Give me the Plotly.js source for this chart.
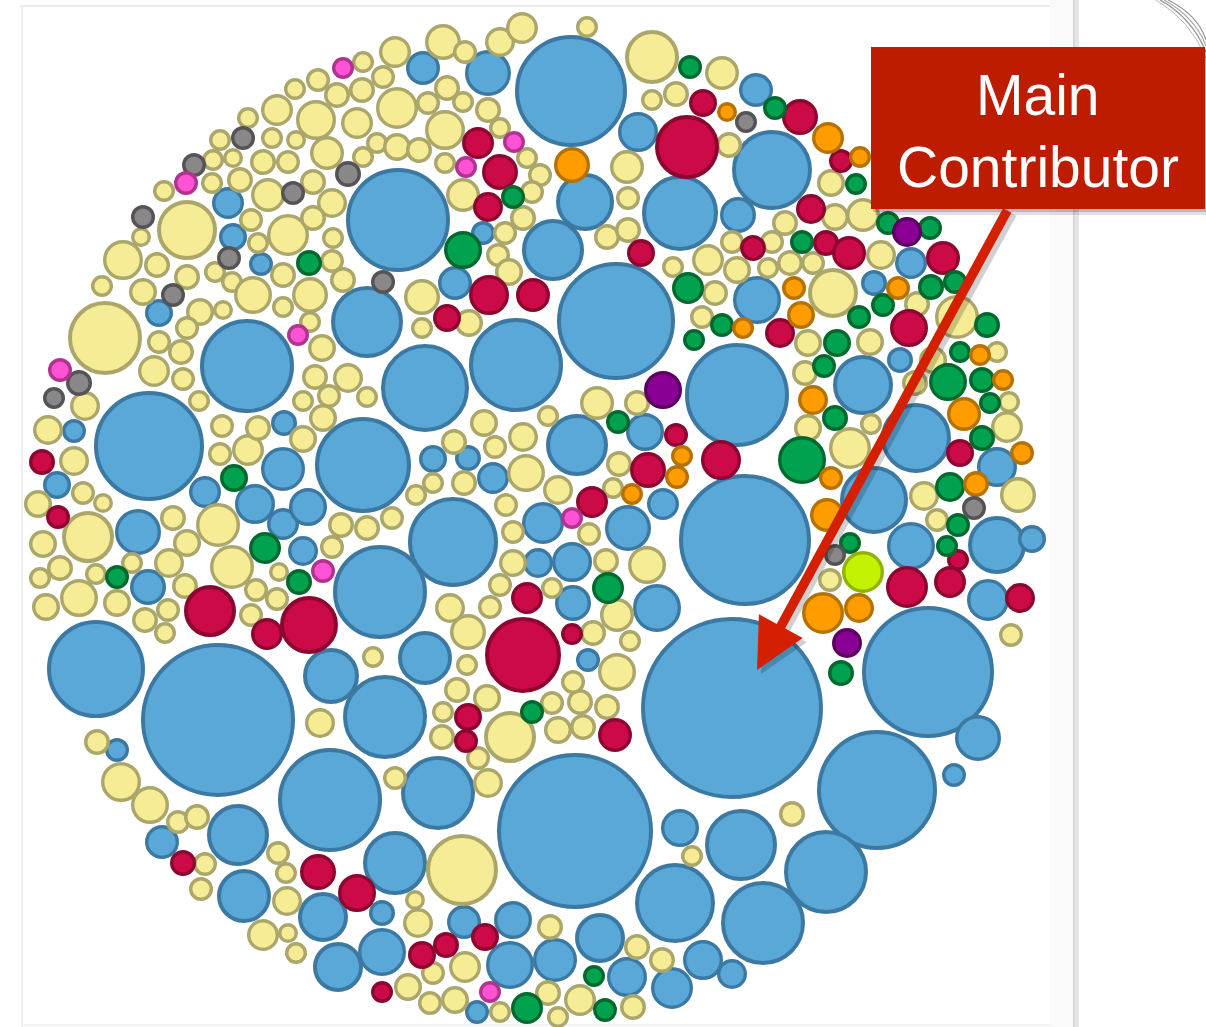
<!DOCTYPE html>
<html>
<head>
<meta charset="utf-8">
<script src="https://cdn.plot.ly/plotly-3.0.1.min.js"></script>
<style>
  html, body { margin: 0; padding: 0; background: #ffffff; }
  #chart { width: 1206px; height: 1027px; }
</style>
</head>
<body>
<div id="chart"></div>
<script>
// Each bubble: [x, y, radius] in chart units (the packed layout)
const blueBubbles = [[571,91,56],[616,321,59],[732,708,91],[575,831,78],[218,720,77],[928,672,66],[745,540,66],[149,446,55],[398,220,52],[363,465,48],[516,365,47],[737,395,52],[380,592,47],[453,542,45],[247,366,47],[96,669,49],[330,800,52],[877,790,60],[425,388,44],[680,213,38],[772,170,40],[367,322,36],[553,250,31],[585,202,29],[577,445,31],[438,793,37],[385,717,42],[238,835,31],[675,903,40],[741,845,36],[826,872,42],[763,923,42],[874,500,34],[916,438,35],[863,385,30],[997,545,29],[1032,539,14],[911,546,24],[988,600,21],[900,360,13],[997,467,20],[978,738,23],[954,775,12],[732,974,15],[680,828,19],[703,960,20],[672,988,21],[627,977,20],[600,938,25],[555,960,22],[510,965,24],[513,920,19],[464,922,17],[382,913,13],[382,952,24],[477,1012,12],[395,863,32],[331,676,28],[117,750,12],[162,842,17],[244,896,27],[323,917,25],[338,967,25],[74,431,12],[57,485,14],[138,532,23],[148,587,18],[303,551,15],[283,524,16],[308,507,19],[255,504,20],[283,469,22],[205,492,16],[284,423,13],[425,658,27],[493,478,16],[468,458,13],[433,459,14],[543,523,21],[538,563,15],[572,562,20],[573,603,18],[657,608,24],[588,660,12],[645,432,19],[663,504,16],[628,528,23],[423,68,17],[488,73,23],[638,132,20],[483,233,12],[455,283,17],[228,203,16],[233,237,14],[261,264,12],[159,313,14],[756,90,17],[738,215,18],[911,263,16],[757,300,24],[874,283,13]];

const yellowBubbles = [[462,870,36],[395,778,12],[442,737,13],[443,712,11],[510,737,26],[552,703,12],[580,702,13],[607,707,13],[558,730,14],[583,727,13],[478,758,12],[488,783,15],[457,690,13],[487,698,14],[573,682,12],[617,672,19],[692,856,11],[550,927,13],[637,947,13],[662,960,13],[633,1007,13],[580,1000,16],[548,993,13],[558,1017,11],[500,1012,11],[465,967,16],[433,973,12],[408,987,14],[430,1003,12],[455,1000,14],[415,900,10],[418,923,15],[792,814,13],[97,742,13],[121,782,20],[150,805,19],[178,822,12],[197,817,13],[320,723,15],[205,864,12],[201,889,12],[278,853,12],[286,873,11],[287,901,15],[263,935,16],[288,933,10],[296,953,11],[105,338,37],[85,406,15],[48,430,15],[74,461,15],[38,504,14],[83,493,12],[103,503,10],[88,537,26],[43,544,14],[60,568,13],[40,578,11],[46,607,14],[79,598,19],[96,574,11],[132,563,11],[117,603,14],[145,620,13],[165,633,11],[168,610,12],[173,518,13],[187,543,14],[218,525,22],[169,563,15],[185,586,13],[232,567,22],[251,615,12],[256,590,12],[277,599,12],[279,572,10],[220,454,12],[222,426,12],[248,450,16],[258,428,13],[303,439,14],[199,401,11],[154,371,16],[183,379,12],[181,352,13],[159,342,12],[315,377,13],[348,378,15],[367,397,11],[329,396,12],[303,401,11],[323,418,14],[322,348,14],[341,525,13],[367,528,13],[332,547,12],[373,657,11],[597,403,17],[637,403,13],[619,464,13],[613,488,11],[589,534,12],[558,490,15],[548,416,11],[526,473,19],[523,437,15],[495,447,12],[484,423,14],[454,442,13],[433,483,11],[416,495,11],[464,483,13],[506,505,12],[513,532,12],[392,518,12],[606,561,13],[647,565,19],[552,588,11],[513,563,14],[500,585,12],[490,607,12],[617,615,17],[593,633,13],[630,641,11],[450,608,15],[468,632,18],[467,665,11],[808,343,14],[870,342,14],[805,373,13],[933,360,14],[915,383,13],[997,352,11],[808,428,14],[871,424,11],[850,448,21],[1009,402,11],[1007,427,16],[924,496,15],[1018,495,18],[937,520,12],[830,580,12],[1011,635,12],[722,73,17],[729,145,13],[831,183,14],[835,217,14],[863,215,17],[785,223,13],[732,242,12],[772,242,12],[881,255,15],[737,270,14],[768,268,11],[790,263,13],[813,263,12],[833,293,25],[917,304,13],[957,317,22],[395,52,16],[443,42,18],[465,52,12],[500,42,15],[522,28,16],[587,27,11],[652,57,27],[383,77,12],[397,108,21],[428,103,12],[447,88,13],[463,102,11],[488,110,13],[652,100,11],[676,94,13],[377,143,11],[397,147,14],[419,150,13],[445,130,20],[500,128,11],[445,163,11],[527,158,11],[540,175,12],[627,167,17],[463,195,17],[532,192,12],[523,218,13],[628,198,12],[505,233,12],[498,255,12],[509,272,14],[607,237,13],[628,230,13],[673,267,11],[708,260,16],[715,293,13],[702,317,12],[422,297,18],[469,323,14],[422,328,11],[363,62,11],[318,80,12],[295,89,11],[337,95,13],[362,90,13],[248,118,11],[277,110,16],[316,120,20],[357,123,16],[220,140,11],[272,138,11],[296,140,10],[327,153,17],[363,157,11],[213,160,11],[233,158,10],[263,162,13],[288,162,12],[212,183,11],[240,180,13],[313,182,13],[164,191,11],[268,195,17],[332,203,15],[187,230,30],[251,220,12],[288,235,21],[313,218,13],[333,238,11],[258,243,11],[141,237,10],[123,260,20],[157,265,13],[332,261,12],[343,280,13],[283,275,13],[310,295,18],[102,286,11],[143,292,14],[187,277,13],[215,272,11],[232,282,11],[253,295,19],[283,307,11],[200,312,14],[223,310,10],[187,328,12],[310,322,11]];

const redBubbles = [[478,143,16],[500,172,18],[488,207,15],[687,147,32],[703,103,14],[489,295,20],[533,295,17],[447,318,14],[641,253,14],[800,117,18],[841,161,12],[811,209,15],[943,258,17],[753,248,13],[826,243,13],[849,253,17],[909,328,19],[780,333,15],[721,460,20],[648,470,18],[676,435,12],[592,502,16],[527,598,16],[572,634,11],[523,655,38],[468,717,14],[466,741,12],[615,735,17],[485,937,14],[446,945,13],[422,955,14],[382,992,11],[183,863,13],[318,872,18],[357,893,19],[210,611,26],[267,634,16],[309,625,29],[42,462,13],[58,517,12],[960,453,14],[958,560,11],[950,582,16],[907,587,21],[1020,598,15]];

const greenBubbles = [[690,67,12],[775,108,12],[856,184,11],[888,223,12],[930,228,12],[802,242,12],[883,305,12],[931,287,13],[955,282,12],[859,317,12],[987,325,13],[513,197,12],[463,250,19],[688,288,16],[722,325,12],[694,340,11],[309,263,13],[618,422,12],[608,588,16],[532,712,12],[594,976,11],[605,1010,12],[527,1008,16],[117,577,12],[299,582,13],[265,548,16],[234,478,14],[837,343,14],[824,366,12],[960,352,11],[948,382,19],[982,380,13],[835,418,13],[990,403,11],[802,460,24],[982,438,13],[950,487,15],[958,525,12],[947,546,11],[850,543,11],[841,673,13]];

const orangeBubbles = [[572,165,18],[727,112,10],[828,138,16],[860,157,11],[794,288,12],[898,288,12],[801,315,14],[743,328,11],[682,456,11],[677,477,12],[632,494,11],[980,355,11],[1003,380,11],[813,400,15],[964,414,17],[1022,453,12],[831,478,12],[827,515,17],[976,484,13],[823,613,21],[859,608,15]];

const grayBubbles = [[243,138,12],[194,165,12],[293,193,12],[348,174,13],[143,217,12],[229,258,12],[173,295,12],[383,282,12],[79,383,13],[54,398,11],[746,122,11],[974,508,12],[835,555,11]];

const pinkBubbles = [[343,68,11],[514,142,11],[466,167,11],[186,183,12],[298,335,11],[60,370,12],[323,571,12],[572,518,11],[490,992,11]];

const purpleBubbles = [[907,232,15],[663,390,19],[847,643,15]];

const limeBubbles = [[863,572,21]];

const calloutLines = ["Main", "Contributor"];

// ---- styling (kept separate from the data) ----
const groups = [
  {data: blueBubbles,   fill: '#5aa8d8', edge: '#3c79a2'},
  {data: yellowBubbles, fill: '#f5ec95', edge: '#aba66a'},
  {data: redBubbles,    fill: '#cc0a47', edge: '#8d0631'},
  {data: greenBubbles,  fill: '#00a24f', edge: '#00692e'},
  {data: orangeBubbles, fill: '#ff9d00', edge: '#b67200'},
  {data: grayBubbles,   fill: '#8a8789', edge: '#555356'},
  {data: pinkBubbles,   fill: '#ff52d4', edge: '#b1338f'},
  {data: purpleBubbles, fill: '#8b0094', edge: '#5b0060'},
  {data: limeBubbles,   fill: '#c3f200', edge: '#90b300'}
];
const edgeWidth = r => (r >= 25 ? 4 : 3.4);

const traces = groups.map(g => ({
  type: 'scatter',
  mode: 'markers',
  x: g.data.map(d => d[0]),
  y: g.data.map(d => d[1]),
  marker: {
    size: g.data.map(d => 2 * d[2] - edgeWidth(d[2])),
    sizemode: 'diameter',
    color: g.fill,
    opacity: 1,
    line: {color: g.edge, width: g.data.map(d => edgeWidth(d[2]))}
  },
  cliponaxis: false,
  hoverinfo: 'skip',
  showlegend: false
}));

const FONT = '"Liberation Sans", Arial, sans-serif';

const layout = {
  width: 1206,
  height: 1027,
  margin: {l: 0, r: 0, t: 0, b: 0},
  paper_bgcolor: '#ffffff',
  plot_bgcolor: '#ffffff',
  xaxis: {range: [0, 1206], visible: false, fixedrange: true},
  yaxis: {range: [1027, 0], visible: false, fixedrange: true},
  showlegend: false,
  shapes: [
    // panel frame
    {type: 'line', layer: 'below', x0: 20, x1: 1050, y0: 6, y1: 6, line: {color: '#ebebeb', width: 2}},
    {type: 'line', layer: 'below', x0: 22, x1: 22, y0: 6, y1: 1027, line: {color: '#efefef', width: 2}},
    {type: 'line', layer: 'below', x0: 22, x1: 1075, y0: 1025, y1: 1025, line: {color: '#f2f2f2', width: 2}},
    {type: 'rect', layer: 'below', x0: 1050, x1: 1074, y0: 0, y1: 1027, fillcolor: '#fafafa', line: {width: 0}},
    {type: 'line', layer: 'below', x0: 1076, x1: 1076, y0: 0, y1: 1027, line: {color: 'rgba(0,0,0,0.10)', width: 6}},
    {type: 'line', layer: 'below', x0: 1074, x1: 1074, y0: 0, y1: 1027, line: {color: '#d4d4d4', width: 1.5}},
    // scribble at top-right
    {type: 'path', layer: 'below', path: 'M1160,0 Q1192,18 1206,52', line: {color: '#9a9a9a', width: 1.4}},
    {type: 'path', layer: 'below', path: 'M1164,0 Q1195,17 1206,46', line: {color: '#a8a8a8', width: 1.2}},
    {type: 'path', layer: 'below', path: 'M1168,0 Q1198,15 1206,40', line: {color: '#9a9a9a', width: 1.2}},
    {type: 'path', layer: 'below', path: 'M1156,0 Q1190,20 1206,58', line: {color: '#b4b4b4', width: 1}},
    // callout box with soft shadow
    {type: 'rect', layer: 'above', x0: 875, x1: 1209, y0: 52, y1: 215, fillcolor: 'rgba(0,0,0,0.12)', line: {width: 0}},
    {type: 'rect', layer: 'above', x0: 873, x1: 1207, y0: 50, y1: 212, fillcolor: 'rgba(0,0,0,0.18)', line: {width: 0}},
    {type: 'rect', layer: 'above', x0: 871, x1: 1205, y0: 47, y1: 209, fillcolor: '#bd1c00', line: {width: 0}}
  ],
  annotations: [
    // arrow shadow
    {x: 761, y: 674, xref: 'x', yref: 'y', ax: 1013, ay: 212, axref: 'x', ayref: 'y',
     text: '', showarrow: true, arrowhead: 2, arrowsize: 1.05, arrowwidth: 9.5, arrowcolor: 'rgba(0,0,0,0.18)', standoff: 0},
    // arrow
    {x: 757, y: 670, xref: 'x', yref: 'y', ax: 1008, ay: 209, axref: 'x', ayref: 'y',
     text: '', showarrow: true, arrowhead: 2, arrowsize: 1.05, arrowwidth: 9.5, arrowcolor: '#d41f00', standoff: 0},
    {x: 1038, y: 95, xref: 'x', yref: 'y', text: calloutLines[0], showarrow: false,
     xanchor: 'center', yanchor: 'middle', font: {family: FONT, size: 57, color: '#ffffff', weight: 300}},
    {x: 1038, y: 167, xref: 'x', yref: 'y', text: calloutLines[1], showarrow: false,
     xanchor: 'center', yanchor: 'middle', font: {family: FONT, size: 57, color: '#ffffff', weight: 300}}
  ]
};

Plotly.newPlot('chart', traces, layout, {staticPlot: true, displayModeBar: false});
</script>
</body>
</html>
